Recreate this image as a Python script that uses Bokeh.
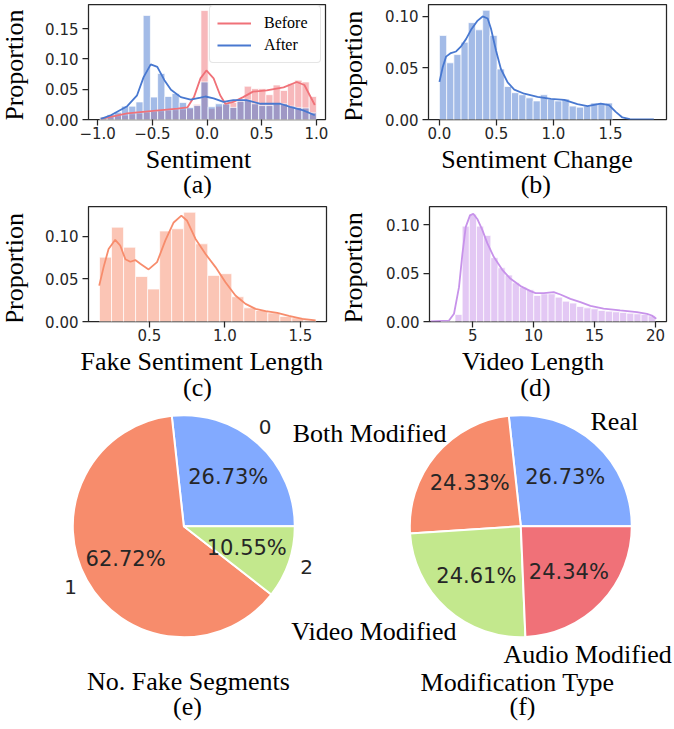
import math
import numpy as np
from bokeh.plotting import figure
from bokeh.models import (Range1d, FixedTicker, PrintfTickFormatter, CustomJSTickFormatter,
                          Label, Legend, LegendItem, ColumnDataSource)
from bokeh.layouts import row, column
from bokeh.embed import file_html
from bokeh.resources import INLINE

# ---------------- data ----------------
# (a) Sentiment before / after
sent_bin_start = -0.98
sent_bin_width = 0.066
sent_after = [0.004, 0.008, 0.012, 0.022, 0.022, 0.029, 0.172, 0.037, 0.076, 0.038,
              0.043, 0.028, 0.020, 0.023, 0.062, 0.021, 0.026, 0.026, 0.020, 0.030,
              0.032, 0.026, 0.023, 0.023, 0.026, 0.026, 0.022, 0.020, 0.019, 0.011]
sent_before = [0.002, 0.004, 0.006, 0.007, 0.009, 0.010, 0.012, 0.013, 0.014, 0.015,
               0.016, 0.017, 0.018, 0.025, 0.180, 0.018, 0.022, 0.025, 0.028, 0.032,
               0.055, 0.051, 0.051, 0.041, 0.057, 0.048, 0.059, 0.065, 0.062, 0.038]
kde_after_x = [-0.97, -0.88, -0.73, -0.64, -0.58, -0.515, -0.455, -0.39, -0.33, -0.24,
               -0.15, -0.06, -0.015, 0.06, 0.15, 0.24, 0.36, 0.49, 0.67, 0.76, 0.88, 0.985]
kde_after_y = [0.001, 0.007, 0.022, 0.040, 0.070, 0.091, 0.087, 0.065, 0.049, 0.037,
               0.033, 0.036, 0.038, 0.035, 0.029, 0.032, 0.032, 0.026, 0.026, 0.021, 0.015, 0.007]
kde_before_x = [-0.97, -0.73, -0.515, -0.27, -0.18, -0.12, -0.06, -0.006, 0.06, 0.12,
                0.167, 0.24, 0.33, 0.42, 0.545, 0.70, 0.82, 0.89, 0.985]
kde_before_y = [0.001, 0.010, 0.014, 0.018, 0.020, 0.037, 0.068, 0.081, 0.068, 0.040,
                0.026, 0.029, 0.037, 0.046, 0.048, 0.053, 0.062, 0.057, 0.024]

# (b) Sentiment change
chg_bin_start = 0.0
chg_bin_width = 0.0632
chg_props = [0.0816, 0.055, 0.063, 0.075, 0.094, 0.087, 0.106, 0.0816, 0.049, 0.032,
             0.026, 0.024, 0.021, 0.018, 0.024, 0.0197, 0.018, 0.020, 0.013, 0.012,
             0.013, 0.016, 0.016, 0.016]
kde_chg_x = [0.0, 0.029, 0.058, 0.10, 0.146, 0.19, 0.233, 0.277, 0.335, 0.379, 0.423,
             0.452, 0.496, 0.539, 0.598, 0.656, 0.744, 0.86, 0.977, 1.094, 1.21, 1.298,
             1.414, 1.487, 1.546, 1.604, 1.67, 1.88]
kde_chg_y = [0.0365, 0.051, 0.061, 0.0645, 0.066, 0.071, 0.078, 0.087, 0.096, 0.100, 0.098,
             0.088, 0.067, 0.049, 0.036, 0.029, 0.025, 0.022, 0.020, 0.019, 0.015, 0.013,
             0.0155, 0.014, 0.0074, 0.002, 0.0003, 0.0]

# (c) Fake sentiment length
len_bin_start = 0.17
len_bin_width = 0.0796
len_props = [0.0754, 0.1105, 0.087, 0.0527, 0.038, 0.106, 0.1086, 0.128, 0.091, 0.054,
             0.056, 0.029, 0.016, 0.0129, 0.010, 0.006, 0.0043, 0.0016]
kde_len_x = [0.168, 0.197, 0.23, 0.274, 0.307, 0.341, 0.374, 0.407, 0.44, 0.495, 0.551,
             0.606, 0.661, 0.712, 0.75, 0.805, 0.872, 0.938, 1.004, 1.07, 1.137, 1.203,
             1.27, 1.347, 1.424, 1.513, 1.601]
kde_len_y = [0.042, 0.0637, 0.085, 0.0957, 0.089, 0.073, 0.070, 0.072, 0.0676, 0.061, 0.0695,
             0.095, 0.116, 0.124, 0.118, 0.097, 0.079, 0.0637, 0.046, 0.0305, 0.0207, 0.0148,
             0.0121, 0.0102, 0.0066, 0.0031, 0.0012]

# (d) Video length
vid_bin_start = 2.38
vid_bin_width = 0.587
vid_props = [0.0, 0.0, 0.0072, 0.0986, 0.111, 0.0986, 0.089, 0.066, 0.0555, 0.048,
             0.040, 0.0355, 0.0328, 0.0269, 0.0286, 0.0286, 0.0252, 0.021, 0.019, 0.0155,
             0.0141, 0.0131, 0.0114, 0.0107, 0.0100, 0.0093, 0.0086, 0.0079, 0.0072, 0.0059]
kde_vid_x = [1.56, 3.06, 3.47, 3.88, 4.16, 4.43, 4.78, 5.05, 5.38, 5.79, 6.2, 6.74, 7.43,
             8.11, 8.93, 9.75, 10.16, 10.84, 11.65, 12.2, 13.02, 13.84, 14.66, 15.74, 17.1,
             18.48, 19.3, 19.7, 20.06]
kde_vid_y = [0.0, 0.001, 0.008, 0.0355, 0.070, 0.0976, 0.1097, 0.1114, 0.106, 0.0948, 0.081,
             0.0666, 0.0534, 0.0441, 0.0366, 0.0314, 0.0293, 0.0293, 0.0303, 0.0279, 0.0234,
             0.020, 0.0162, 0.0134, 0.0114, 0.0097, 0.0079, 0.0062, 0.0028]

# (e) number of fake segments
seg_labels = ["0", "1", "2"]
seg_pct = [26.73, 62.72, 10.55]
# (f) modification type
mod_labels = ["Real", "Both Modified", "Video Modified", "Audio Modified"]
mod_pct = [26.73, 24.33, 24.61, 24.34]

# ---------------- style ----------------
C_BEFORE = "#F07178"
C_AFTER = "#4878D0"
C_CHG = "#4878D0"
C_LEN = "#F78C6C"
C_VID = "#C792EA"
PIE_E = ["#82AAFF", "#F78C6C", "#C3E88D"]
PIE_F = ["#82AAFF", "#F78C6C", "#C3E88D", "#F07178"]
INK = "#262626"
SERIF = "Liberation Serif"
SANS = "DejaVu Sans"
LAB = "26px"
TICK = "15px"


def blank_fig(W, H):
    p = figure(width=W, height=H, x_range=Range1d(0, W), y_range=Range1d(0, H),
               toolbar_location=None, output_backend="svg", x_axis_type=None,
               y_axis_type=None, min_border=0)
    p.xgrid.visible = False
    p.ygrid.visible = False
    p.outline_line_color = None
    p._H = H
    return p


def txt(p, lx, ly, text, font=SERIF, size=LAB, align="center", angle=0.0, color="black"):
    # lx, ly: pixel position (middle of the text box) inside a blank figure, from top-left
    p.add_layout(Label(x=lx, y=p._H - ly, text=text, text_font=font, text_font_size=size,
                       text_align=align, text_baseline="middle", angle=angle,
                       text_color=color))


def hist_fig(xr, yr, L, T, fw, fh, W, H):
    p = figure(width=W, height=H, x_range=Range1d(*xr), y_range=Range1d(*yr),
               toolbar_location=None, output_backend="svg",
               min_border_left=L, min_border_right=W - L - fw,
               min_border_top=T, min_border_bottom=H - T - fh)
    p.xgrid.visible = False
    p.ygrid.visible = False
    p.outline_line_color = INK
    p.outline_line_width = 1.25
    for ax in (p.xaxis[0], p.yaxis[0]):
        ax.axis_line_color = None
        ax.major_tick_line_color = INK
        ax.major_tick_line_width = 1.25
        ax.major_tick_out = 6
        ax.major_tick_in = 0
        ax.minor_tick_line_color = None
        ax.major_label_text_font = SANS
        ax.major_label_text_font_size = TICK
        ax.major_label_text_color = INK
        ax.major_label_standoff = 4
    p.xaxis[0].major_label_standoff = 1
    p.yaxis[0].formatter = PrintfTickFormatter(format="%.2f")
    return p


def bars(p, start, width, props, color):
    n = len(props)
    centers = start + width * (np.arange(n) + 0.5)
    src = ColumnDataSource(dict(x=centers, top=props))
    return p.vbar(x="x", top="top", bottom=0, width=width, source=src, fill_color=color,
                  fill_alpha=0.5, line_color="white", line_width=1, line_alpha=0.7)


ROT = math.pi / 2
ROT_FIX = 10  # rotated labels render higher than their anchor; compensate

# ---------- (a) ----------
pa = hist_fig((-1.084, 1.083), (0, 0.190), 52, 4, 237, 115, 301, 144)
bars(pa, sent_bin_start, sent_bin_width, sent_before, C_BEFORE)
bars(pa, sent_bin_start, sent_bin_width, sent_after, C_AFTER)
lb = pa.line(kde_before_x, kde_before_y, line_color=C_BEFORE, line_width=1.8)
la = pa.line(kde_after_x, kde_after_y, line_color=C_AFTER, line_width=1.8)
pa.xaxis[0].ticker = FixedTicker(ticks=[-1.0, -0.5, 0.0, 0.5, 1.0])
pa.xaxis[0].formatter = CustomJSTickFormatter(
    code="return tick.toFixed(1).replace('-', '\u2212')")
pa.yaxis[0].ticker = FixedTicker(ticks=[0.0, 0.05, 0.10, 0.15])
leg = Legend(items=[LegendItem(label="Before", renderers=[lb]),
                    LegendItem(label="After", renderers=[la])],
             location=(121, 56))
leg.label_text_font = SERIF
leg.label_text_font_size = "16px"
leg.label_text_color = "black"
leg.padding = 7
leg.spacing = 2
leg.glyph_width = 34
leg.glyph_height = 20
leg.label_height = 20
leg.label_width = 49
leg.label_standoff = 13
leg.margin = 0
leg.border_line_color = "#cccccc"
leg.border_line_width = 1
leg.background_fill_alpha = 0.85
try:
    leg.border_radius = 4
except Exception:
    pass
pa.add_layout(leg)

ya = blank_fig(36, 144)
txt(ya, 13.5, 66 + ROT_FIX, "Proportion", angle=ROT)
ca = blank_fig(337, 56)
txt(ca, 198, 15, "Sentiment")
txt(ca, 197, 39.5, "(a)")

# ---------- (b) ----------
pb = hist_fig((-0.096, 1.991), (0, 0.1116), 55, 4, 238, 115, 301, 144)
bars(pb, chg_bin_start, chg_bin_width, chg_props, C_CHG)
pb.line(kde_chg_x, kde_chg_y, line_color=C_CHG, line_width=1.8)
pb.xaxis[0].ticker = FixedTicker(ticks=[0.0, 0.5, 1.0, 1.5])
pb.xaxis[0].formatter = PrintfTickFormatter(format="%.1f")
pb.yaxis[0].ticker = FixedTicker(ticks=[0.0, 0.05, 0.10])

yb = blank_fig(36, 144)
txt(yb, 16.3, 67.5 + ROT_FIX, "Proportion", angle=ROT)
cb = blank_fig(337, 56)
txt(cb, 199.5, 15, "Sentiment Change")
txt(cb, 198.3, 39.5, "(b)")

# ---------- (c) ----------
pc = hist_fig((0.097, 1.673), (0, 0.1347), 52, 6, 238, 115, 301, 146)
bars(pc, len_bin_start, len_bin_width, len_props, C_LEN)
pc.line(kde_len_x, kde_len_y, line_color=C_LEN, line_width=1.8)
pc.xaxis[0].ticker = FixedTicker(ticks=[0.5, 1.0, 1.5])
pc.xaxis[0].formatter = PrintfTickFormatter(format="%.1f")
pc.yaxis[0].ticker = FixedTicker(ticks=[0.0, 0.05, 0.10])

yc = blank_fig(36, 146)
txt(yc, 13.5, 69 + ROT_FIX, "Proportion", angle=ROT)
cc = blank_fig(337, 56)
txt(cc, 201.3, 14.7, "Fake Sentiment Length")
txt(cc, 197, 40.9, "(c)")

# ---------- (d) ----------
pd_ = hist_fig((1.46, 20.9), (0, 0.1189), 56, 6, 237, 115, 301, 146)
bars(pd_, vid_bin_start, vid_bin_width, vid_props, C_VID)
pd_.line(kde_vid_x, kde_vid_y, line_color=C_VID, line_width=1.8)
pd_.xaxis[0].ticker = FixedTicker(ticks=[5, 10, 15, 20])
pd_.xaxis[0].formatter = PrintfTickFormatter(format="%d")
pd_.yaxis[0].ticker = FixedTicker(ticks=[0.0, 0.05, 0.10])

yd = blank_fig(36, 146)
txt(yd, 16.3, 68 + ROT_FIX, "Proportion", angle=ROT)
cd = blank_fig(337, 56)
txt(cd, 195.5, 14.7, "Video Length")
txt(cd, 198, 40.9, "(d)")

# ---------- pies (one canvas for both) ----------
PIE_R = 111
pp = blank_fig(674, 327)


def draw_pie(p, cx, cy_top, pcts, colors):
    cy = p._H - cy_top
    fr = np.array(pcts) / np.sum(pcts)
    ends = np.cumsum(fr) * 2 * np.pi
    starts = ends - fr * 2 * np.pi
    src = ColumnDataSource(dict(s=starts, e=ends, c=colors))
    p.wedge(x=cx, y=cy, radius=PIE_R, start_angle="s", end_angle="e", fill_color="c",
            line_color="white", line_width=2, source=src)
    for s, e, v in zip(starts, ends, pcts):
        m = (s + e) / 2
        p.add_layout(Label(x=cx + 0.6 * PIE_R * math.cos(m), y=cy + 0.6 * PIE_R * math.sin(m),
                           text=f"{v:.2f}%", text_font=SANS, text_font_size="21px",
                           text_align="center", text_baseline="middle", text_color=INK))


draw_pie(pp, 183.3, 123.7, seg_pct, PIE_E)
txt(pp, 264.7, 24, seg_labels[0], font=SANS, size="20px", color=INK)
txt(pp, 70, 184, seg_labels[1], font=SANS, size="20px", color=INK)
txt(pp, 306, 164, seg_labels[2], font=SANS, size="20px", color=INK)
txt(pp, 188, 278.5, "No. Fake Segments")
txt(pp, 187, 304.2, "(e)")

draw_pie(pp, 520.3, 123.7, mod_pct, PIE_F)
txt(pp, 590, 19.2, mod_labels[0], align="left")
txt(pp, 446, 30.7, mod_labels[1], align="right")
txt(pp, 456, 229.2, mod_labels[2], align="right")
txt(pp, 503, 252.2, mod_labels[3], align="left")
txt(pp, 517, 279.5, "Modification Type")
txt(pp, 522, 304.2, "(f)")

panel_a = column(row(ya, pa, spacing=0), ca, spacing=0)
panel_b = column(row(yb, pb, spacing=0), cb, spacing=0)
panel_c = column(row(yc, pc, spacing=0), cc, spacing=0)
panel_d = column(row(yd, pd_, spacing=0), cd, spacing=0)
layout = column(row(panel_a, panel_b, spacing=0), row(panel_c, panel_d, spacing=0), pp,
                spacing=0)
open("out.html", "w").write(file_html(layout, INLINE))
